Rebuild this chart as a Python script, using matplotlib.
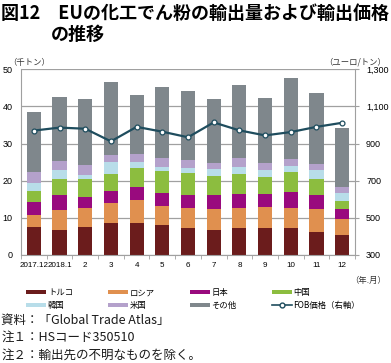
import matplotlib
matplotlib.use("Agg")
import matplotlib.pyplot as plt
import numpy as np
from matplotlib.patches import Patch
from matplotlib.lines import Line2D

plt.rcParams['font.family'] = ['Noto Sans CJK JP', 'DejaVu Sans']

months = ['2017.12', '2018.1', '2', '3', '4', '5', '6', '7', '8', '9', '10', '11', '12']
turkey = [7.6, 6.7, 7.6, 8.5, 8.5, 8.1, 7.4, 6.7, 7.2, 7.2, 7.2, 6.3, 5.3]
russia = [3.3, 5.5, 5.1, 5.4, 6.3, 5.1, 5.3, 5.8, 5.5, 5.7, 5.5, 6.2, 4.5]
japan = [3.3, 4.0, 3.0, 3.3, 3.6, 3.6, 3.5, 3.7, 3.7, 3.5, 4.3, 3.6, 2.7]
china = [3.0, 4.3, 4.7, 4.5, 5.1, 5.8, 5.9, 5.2, 5.4, 4.7, 5.3, 4.4, 2.1]
korea = [2.3, 2.4, 1.1, 3.3, 1.6, 1.2, 1.4, 1.7, 1.8, 1.8, 1.7, 2.4, 2.0]
usa = [2.8, 2.4, 2.7, 1.8, 2.1, 2.2, 2.1, 1.6, 2.4, 1.8, 1.8, 1.6, 1.8]
other = [16.2, 17.3, 17.9, 19.7, 16.0, 19.3, 18.6, 17.3, 19.8, 17.6, 21.9, 19.0, 15.9]
fob = [970, 986, 980, 912, 990, 964, 934, 1014, 971, 944, 962, 990, 1012]

series = [
    ('トルコ', turkey, '#6b1c1c'),
    ('ロシア', russia, '#e0904f'),
    ('日本', japan, '#990a7e'),
    ('中国', china, '#8cbd3f'),
    ('韓国', korea, '#b8dde9'),
    ('米国', usa, '#b4a1cb'),
    ('その他', other, '#7f878c'),
]
line_color = '#1f4d5e'
num_font = ['Liberation Sans', 'DejaVu Sans']

fig = plt.figure(figsize=(3.91, 3.63), dpi=100)
ax = fig.add_axes([21/391, 1-255/363, 334/391, 185.7/363])

x = np.arange(len(months))
bottom = np.zeros(len(months))
handles = {}
for name, vals, color in series:
    ax.bar(x, vals, 0.55, bottom=bottom, color=color, zorder=2)
    bottom += np.array(vals)
    handles[name] = Patch(facecolor=color)

ax.set_xlim(-0.5, 12.5)
ax.set_ylim(0, 50)
ax.set_yticks(np.arange(0, 51, 10))
ax.yaxis.grid(True, color='#a0a0a0', linewidth=0.9, zorder=0)
ax.set_xticks(x)
ax.set_xticklabels(months, fontsize=5.8, family=num_font)
ax.set_xticks(np.arange(-0.5, 12.6, 1), minor=True)
ax.tick_params(axis='x', which='major', length=0, pad=5)
ax.tick_params(axis='x', which='minor', length=3, color='#a0a0a0')
ax.tick_params(axis='y', length=0, labelsize=6.5, pad=6)
for lab in ax.get_yticklabels():
    lab.set_family(num_font)
for s in ['top', 'right']:
    ax.spines[s].set_visible(False)
for s in ['left', 'bottom']:
    ax.spines[s].set_color('#a0a0a0')

ax2 = ax.twinx()
ax2.plot(x, fob, color=line_color, linewidth=1.6, marker='o', markersize=3.5,
         markerfacecolor='white', markeredgecolor=line_color, markeredgewidth=0.9, zorder=5)
ax2.set_ylim(300, 1300)
ax2.set_yticks(np.arange(300, 1301, 200))
ax2.set_yticklabels(['300', '500', '700', '900', '1,100', '1,300'], family=num_font)
ax2.tick_params(axis='y', length=3, color='#a0a0a0', labelsize=6.5, pad=5)
for s in ['top', 'left', 'bottom']:
    ax2.spines[s].set_visible(False)
ax2.spines['right'].set_color('#a0a0a0')

fig.text(0.003, 1-4/363, '図12　EUの化工でん粉の輸出量および輸出価格', fontsize=13,
         fontweight='bold', va='top', ha='left')
fig.text(0.13, 1-25/363, 'の推移', fontsize=13, fontweight='bold', va='top', ha='left')

fig.text(8/391, 1-62/363, '（千トン）', fontsize=6, va='center', ha='left', color='#333333')
fig.text(386/391, 1-62/363, '（ユーロ/トン）', fontsize=6, va='center', ha='right', color='#333333')
fig.text(386/391, 1-280/363, '（年.月）', fontsize=6, va='center', ha='right', color='#333333')

fob_handle = Line2D([], [], color=line_color, marker='o', markersize=3.5,
                    markerfacecolor='white', markeredgecolor=line_color, linewidth=1.2)
order = ['トルコ', '韓国', 'ロシア', '米国', '日本', 'その他', '中国']
leg_handles = [handles[n] for n in order] + [fob_handle]
leg_labels = order + ['FOB価格（右軸）']
fig.legend(leg_handles, leg_labels, ncol=4, loc='center left', bbox_to_anchor=(22/391, 1-299/363),
           frameon=False, fontsize=6, handlelength=2.4, handleheight=0.35,
           handletextpad=0.2, columnspacing=4.2, labelspacing=0.45, borderpad=0)

notes = ['資料：「Global Trade Atlas」', '注１：HSコード350510', '注２：輸出先の不明なものを除く。']
for i, t in enumerate(notes):
    fig.text(0.003, 1-(320 + i*17.5)/363, t, fontsize=9, va='center', ha='left', color='#1a1a1a')

fig.savefig('out.png', dpi=100)
